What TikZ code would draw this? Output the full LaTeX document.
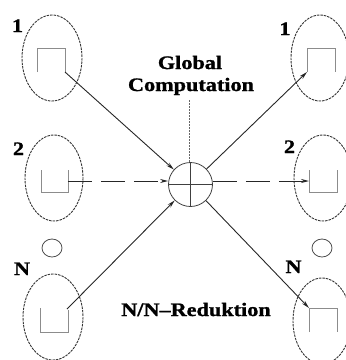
\documentclass[tikz,border=0pt]{standalone}
\usepackage{fontspec}
\setmainfont{Liberation Serif}
\newfontfamily\lblfont[FakeStretch=1.17,FakeBold=1.2]{Liberation Serif Bold}
\usetikzlibrary{arrows.meta,shapes.geometric}
\begin{document}
\begin{tikzpicture}[x=1pt,y=-1pt,
  lbl/.style={font=\lblfont\fontsize{19}{21}\selectfont, inner sep=0pt, anchor=base},
  grp/.style={draw=black!80, line width=0.9pt, dash pattern=on 2.5pt off 1pt},
  sig/.style={draw=black!45, line width=0.9pt},
  flow/.style={draw=black!85, line width=0.9pt, -{Stealth[length=8pt,width=4pt]}},
  flowd/.style={flow, dash pattern=on 24pt off 9pt},
  note/.style={draw=black!60, line width=0.8pt, dash pattern=on 1.5pt off 1.5pt}]
\useasboundingbox (0,0) rectangle (346,360);

% processor groups (left: sources, right: targets)
\draw[grp] (52,58) ellipse [x radius=30, y radius=43];
\draw[grp] (54,178) ellipse [x radius=29, y radius=43];
\draw[grp] (53,317) ellipse [x radius=30, y radius=43];
\draw[grp] (320,58) ellipse [x radius=29, y radius=43];
\draw[grp] (323,178) ellipse [x radius=29, y radius=43];
\draw[grp] (322,321) ellipse [x radius=29, y radius=43];

% ellipsis markers
\draw[line width=0.8pt, draw=black!70] (52,248) ellipse [x radius=10, y radius=9];
\draw[line width=0.8pt, draw=black!70] (322,248) ellipse [x radius=10, y radius=9];

% signal shapes
\draw[sig] (37,72) -- (37,48) -- (65,48) -- (65,72);
\draw[sig] (41,170) -- (41,192) -- (68,192) -- (68,170);
\draw[sig] (40,308) -- (40,332) -- (68,332) -- (68,310);
\draw[sig] (307,72) -- (307,48) -- (335,48) -- (335,72);
\draw[sig] (309,170) -- (309,192) -- (337,192) -- (337,170);
\draw[sig] (309,332) -- (309,308) -- (337,308) -- (337,332);

% connector end points at the signal shapes
\coordinate (s1) at (65,72);
\coordinate (s2) at (68,181);
\coordinate (sn) at (67,309);
\coordinate (t1) at (307,72);
\coordinate (t2) at (309,181);
\coordinate (tn) at (309,308);

% combining operator
\node[circle, minimum size=44pt, inner sep=0pt, draw=black!75, line width=0.8pt] (c) at (190.5,184.5) {};
\draw[line width=0.8pt, draw=black!75] (c.north) -- (c.south) (c.west) -- (c.east);

% labels
\node[lbl] (l1) at (17.5,32) {1};
\node[lbl] (l2) at (18.5,155) {2};
\node[lbl] (ln) at (22,275) {N};
\node[lbl] (r1) at (285,35) {1};
\node[lbl] (r2) at (289.5,153) {2};
\node[lbl] (rn) at (293.5,273) {N};
\node[lbl] (g1) at (190,69) {Global};
\node[lbl] (g2) at (191,91) {Computation};
\node[lbl] (red) at (196,316) {N/N–Reduktion};

% annotation pointer
\coordinate (gp) at (189,100);
\draw[note] (gp) -- (c.north -| gp);

% data flow
\draw[flow] (s1) -- (c);
\draw[flowd] (s2) -- (c.west |- s2);
\draw[flow] (sn) -- (c);
\draw[flow] (c) -- (t1);
\draw[flowd] (c.east |- t2) -- (t2);
\draw[flow] (c) -- (tn);
\end{tikzpicture}
\end{document}
